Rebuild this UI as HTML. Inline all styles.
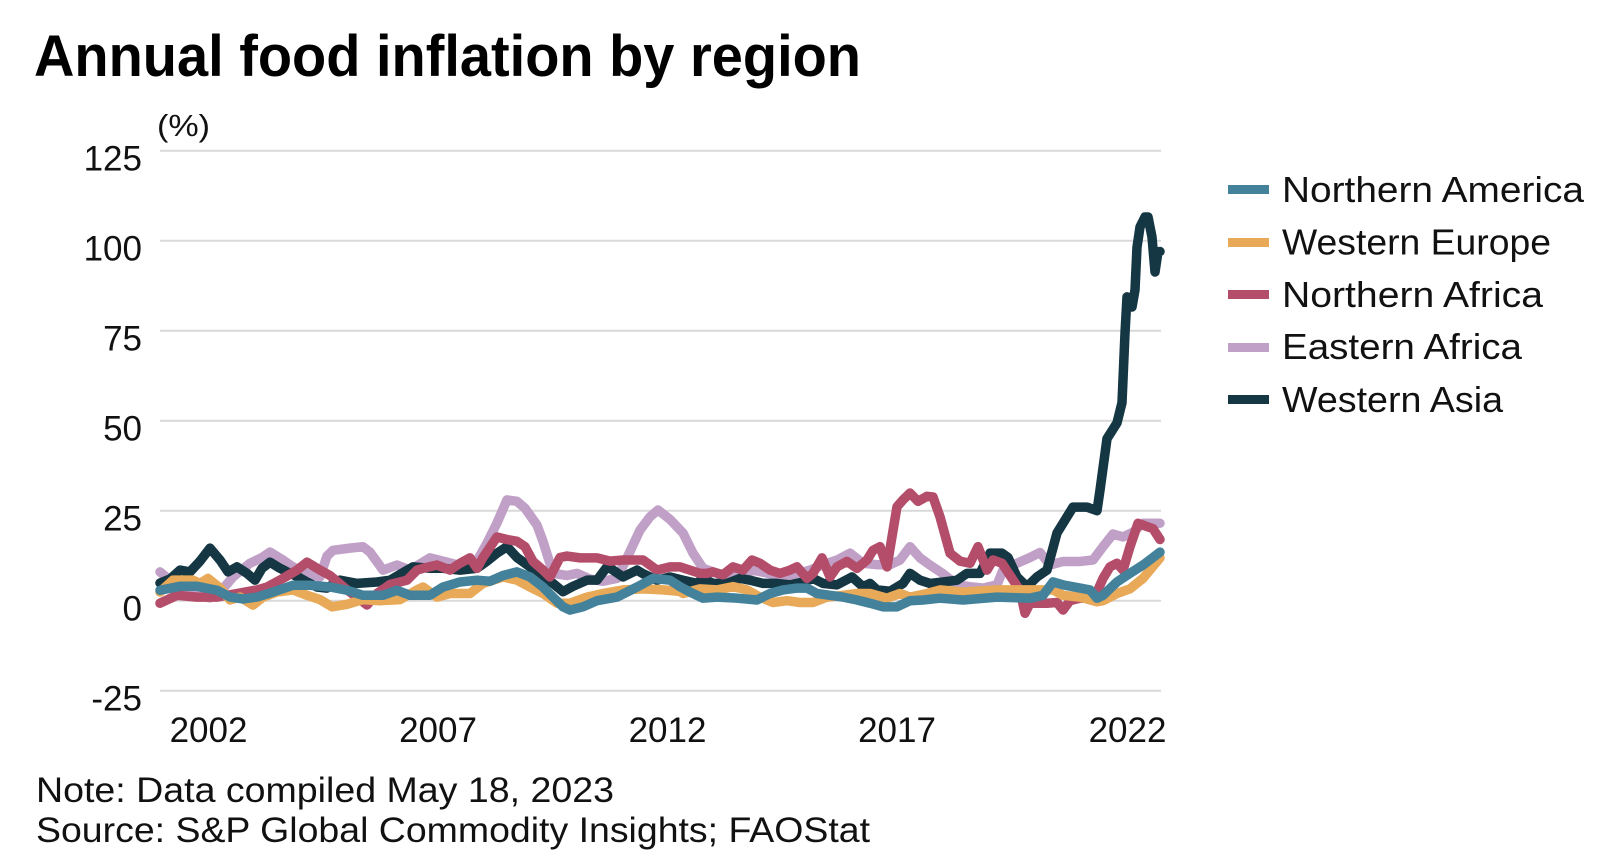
<!DOCTYPE html>
<html>
<head>
<meta charset="utf-8">
<style>
  html, body { margin: 0; padding: 0; background: #ffffff; }
  svg { display: block; }
  text { font-family: "Liberation Sans", "DejaVu Sans", sans-serif; }
</style>
</head>
<body>
<svg width="1624" height="866" viewBox="0 0 1624 866" xmlns="http://www.w3.org/2000/svg">
  <rect x="0" y="0" width="1624" height="866" fill="#ffffff"/>

  <!-- Title -->
  <text x="34" y="76" font-size="58" font-weight="bold" fill="#000" textLength="827" lengthAdjust="spacingAndGlyphs">Annual food inflation by region</text>

  <!-- unit -->
  <text x="157" y="136" font-size="31" fill="#111" textLength="53" lengthAdjust="spacingAndGlyphs">(%)</text>

  <!-- gridlines -->
  <g stroke="#d9d9d9" stroke-width="2">
    <line x1="160" y1="150.7" x2="1161" y2="150.7"/>
    <line x1="160" y1="240.7" x2="1161" y2="240.7"/>
    <line x1="160" y1="330.7" x2="1161" y2="330.7"/>
    <line x1="160" y1="420.7" x2="1161" y2="420.7"/>
    <line x1="160" y1="510.7" x2="1161" y2="510.7"/>
    <line x1="160" y1="600.7" x2="1161" y2="600.7"/>
    <line x1="160" y1="690.7" x2="1161" y2="690.7"/>
  </g>

  <!-- y tick labels -->
  <g font-size="35" fill="#111" text-anchor="end">
    <text x="142" y="170.5">125</text>
    <text x="142" y="260.5">100</text>
    <text x="142" y="350.5">75</text>
    <text x="142" y="440.5">50</text>
    <text x="142" y="530.5">25</text>
    <text x="142" y="620.5">0</text>
    <text x="142" y="710.5">-25</text>
  </g>

  <!-- x tick labels -->
  <g font-size="35" fill="#111" text-anchor="middle">
    <text x="208.5" y="742">2002</text>
    <text x="438" y="742">2007</text>
    <text x="667.5" y="742">2012</text>
    <text x="897" y="742">2017</text>
    <text x="1127.5" y="742">2022</text>
  </g>

  <!-- series -->
  <g transform="translate(0,600.7) scale(1,-3.6)" fill="none" stroke-width="9.5" stroke-linejoin="round" stroke-linecap="round">
    <!-- Eastern Africa -->
    <polyline vector-effect="non-scaling-stroke" stroke="#c0a0c7" points="160,8 170,5.7 180,3.5 195,1.5 210,0.8 222,3 233,6.6 250,10.4 262,12 270,13.5 283,11.3 293,9.4 307,7.6 320,6.6 327,12.4 333,14 350,14.6 363,15 370,13.5 383,8.5 397,9.9 410,8.5 430,11.9 443,11 457,10 470,10 477,11 487,16 497,21.6 507,28 517,27.6 525,25.7 537,21 543,16.5 553,7.6 567,7 577,7.6 590,6 603,5.4 617,6.2 627,11.9 640,19.6 650,23.3 658,25.2 670,22.6 683,18.8 693,13.2 703,9 713,8 727,6.6 740,6.6 753,8.5 770,7.5 783,6.6 797,7.5 810,8.5 823,10 837,11.3 850,13.2 863,10.4 877,10 890,10 900,11.3 910,15 920,11.9 930,9.9 943,7.5 957,4.4 970,3.9 983,3.5 997,4.4 1003,8.5 1013,9.9 1030,12 1040,13.4 1050,9.9 1063,10.9 1080,10.9 1093,11.3 1103,15 1113,18.5 1123,17.7 1133,19 1143,21.5 1153,21.5 1160,21.5"/>
    <!-- Western Asia -->
    <polyline vector-effect="non-scaling-stroke" stroke="#153643" points="160,4.9 170,6 180,8.5 190,8 200,11 210,14.6 220,11.3 228,8 237,9.4 247,7.6 255,5.7 262,9 270,10.7 280,9 290,7.6 298,6.6 307,5.2 317,3.8 327,3.5 340,5.7 357,4.8 377,5.2 390,5.7 400,7.3 413,9.4 430,9 443,9 460,8.5 477,9 487,11 497,13.2 507,15 517,12 530,9.4 543,6.6 553,4.8 563,2.5 573,4 587,5.7 597,5.7 607,9.4 613,8.5 623,6.6 637,8.5 643,7.5 657,5.7 670,6.6 683,5.7 697,4.8 703,6.2 713,4.8 727,4.8 740,6.2 750,5.7 763,4.8 777,4.8 790,4.4 803,5.2 813,6.2 823,4.8 837,4.4 852,6.6 863,3.9 870,4.8 877,3 890,2.6 903,4.8 910,7.6 920,5.7 930,4.8 943,5.2 957,5.7 967,7.6 980,7.6 990,13.2 1002,13.2 1008,12 1017,6.6 1027,3.9 1037,6.6 1047,8.5 1057,18.8 1073,26 1087,26 1097,25 1100,30.7 1107,45 1117,49.4 1122,55 1125,74.3 1127,84.4 1132,81.6 1135,86.3 1137,98.2 1140,103.8 1145,106.6 1148,106.6 1152,101 1155,91.3 1158,96.9 1160,97"/>
    <!-- Northern Africa -->
    <polyline vector-effect="non-scaling-stroke" stroke="#b44d69" points="160,-0.7 177,1.5 197,1 217,1 237,2 257,3 267,3.8 283,6.2 297,8.5 307,10.7 320,8.5 330,7 347,3 357,1 367,-1.2 377,2 390,4.5 407,5.7 417,8.5 423,9 437,9.9 450,8.5 460,10.4 470,11.9 477,9 483,12 497,17.7 507,17 517,16.5 525,15 533,10.9 543,8.5 550,6.6 560,12 567,12.4 580,11.9 597,11.9 610,11 623,11.3 643,11.3 657,8.5 670,9.4 680,9.4 690,8.5 700,7.6 707,7.6 713,8 723,7.2 733,9.4 743,8.5 752,11.3 760,10.4 770,8.5 780,7.6 790,8.5 797,9.4 807,6.2 813,7.6 822,11.9 830,6.6 837,9.4 847,10.9 857,9 867,11.3 873,14 880,15 887,9.4 897,26.1 903,28 910,29.9 918,27.6 927,29 933,28.8 940,23.3 950,13.2 960,11 970,10.4 978,15 987,8.5 993,11.3 1002,10.4 1012,6.2 1020,2.9 1025,-3.5 1030,-0.7 1047,-0.7 1057,-0.5 1063,-2.6 1070,0 1080,0.7 1090,0.7 1097,2.4 1103,6.2 1110,9.4 1117,10.4 1123,8.5 1130,15 1138,21.5 1147,20.6 1153,20 1160,17"/>
    <!-- Western Europe -->
    <polyline vector-effect="non-scaling-stroke" stroke="#e8a958" points="160,2.4 173,5.7 193,5.7 200,4.8 208,6.2 220,3.5 230,0.2 240,1 253,-1.2 263,1 277,2.4 293,3 307,1.5 320,0.3 332,-1.7 347,-1 363,0.3 380,0 400,0.3 417,3 423,3.8 437,1 450,2 470,2 483,4.8 503,6.6 517,5.7 530,3.8 543,2 557,-0.7 570,-0.7 587,1 603,2 623,3 643,3.3 663,3 680,2.6 683,2 700,3.3 717,3 733,3.9 747,3 760,1 773,-0.5 787,0 800,-0.5 813,-0.5 827,1 843,1.5 857,2 870,2 887,0.7 900,2 910,1 927,2 940,3 963,2.4 997,3 1017,3 1040,3 1053,3 1063,1.5 1080,1 1097,-0.3 1103,0 1117,2 1130,3.3 1143,6.2 1160,11.9"/>
    <!-- Northern America -->
    <polyline vector-effect="non-scaling-stroke" stroke="#43829a" points="160,2.9 180,4 197,4 217,2.9 230,1 243,0.5 257,1 273,2.4 293,4.3 310,4.3 330,3.8 347,2.9 363,1.5 383,1.5 397,2.9 410,1.5 430,1.5 443,3.8 460,5.2 477,5.7 490,5.4 503,7 517,8 530,6.6 543,3.8 553,1 563,-1.7 570,-2.6 583,-1.7 597,0 617,1 637,3.8 653,6.2 670,5.7 680,3.9 690,2.4 703,0.7 717,1 737,0.7 757,0.2 770,2 783,3 797,3.5 807,3.5 817,2 830,1.5 843,1 857,0.2 870,-0.7 883,-1.7 897,-1.7 910,0 923,0.2 940,0.7 963,0.2 997,1 1030,0.7 1043,1.5 1053,5.2 1063,4.4 1080,3.5 1090,3 1097,0.7 1103,1.5 1117,5.2 1130,7.6 1143,9.9 1160,13.5"/>
  </g>

  <!-- legend -->
  <g>
    <rect x="1228" y="185" width="41" height="9" fill="#43829a"/>
    <rect x="1228" y="238" width="41" height="9" fill="#e8a958"/>
    <rect x="1228" y="290" width="41" height="9" fill="#b44d69"/>
    <rect x="1228" y="343" width="41" height="9" fill="#c0a0c7"/>
    <rect x="1228" y="395" width="41" height="9" fill="#153643"/>
  </g>
  <g font-size="36" fill="#111">
    <text x="1282" y="202" textLength="302" lengthAdjust="spacingAndGlyphs">Northern America</text>
    <text x="1282" y="254.5" textLength="269" lengthAdjust="spacingAndGlyphs">Western Europe</text>
    <text x="1282" y="307" textLength="261" lengthAdjust="spacingAndGlyphs">Northern Africa</text>
    <text x="1282" y="359" textLength="240" lengthAdjust="spacingAndGlyphs">Eastern Africa</text>
    <text x="1282" y="412" textLength="221" lengthAdjust="spacingAndGlyphs">Western Asia</text>
  </g>

  <!-- notes -->
  <g font-size="35" fill="#111">
    <text x="36" y="802" textLength="578" lengthAdjust="spacingAndGlyphs">Note: Data compiled May 18, 2023</text>
    <text x="36" y="842" textLength="834" lengthAdjust="spacingAndGlyphs">Source: S&amp;P Global Commodity Insights; FAOStat</text>
  </g>
</svg>
</body>
</html>
